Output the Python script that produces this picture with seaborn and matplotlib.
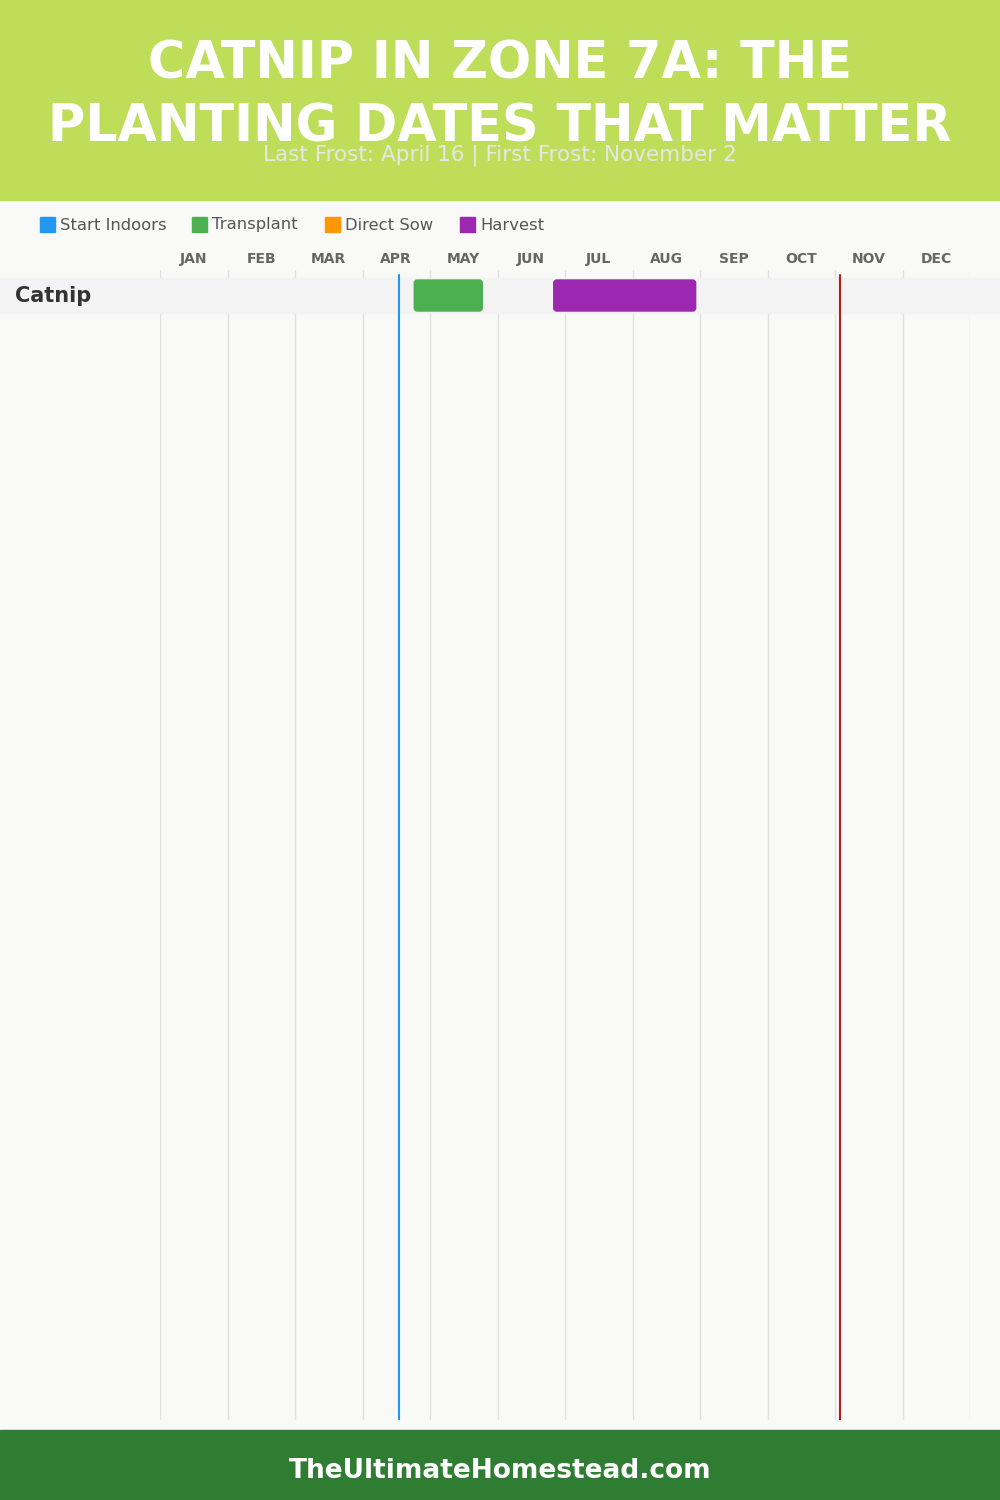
import numpy as np
import matplotlib
matplotlib.use('Agg')
import matplotlib.pyplot as plt
from matplotlib.patches import FancyBboxPatch, Rectangle
from matplotlib import transforms
import seaborn as sns

# dane
months = ['JAN', 'FEB', 'MAR', 'APR', 'MAY', 'JUN', 'JUL', 'AUG', 'SEP', 'OCT', 'NOV', 'DEC']
days_in_month = [31, 28, 31, 30, 31, 30, 31, 31, 30, 31, 30, 31]
crops = ['Catnip']
# okresy: (roslina, etap, miesiac start, dzien start, miesiac koniec, dzien koniec)
task_crop = ['Catnip', 'Catnip']
task_stage = ['Transplant', 'Harvest']
task_start = [(4, 23), (6, 25)]
task_end = [(5, 24), (8, 29)]
legend_stages = ['Start Indoors', 'Transplant', 'Direct Sow', 'Harvest']
stage_colors = ['#2196F3', '#4CAF50', '#FF9800', '#9C27B0']
last_frost = (4, 16)
first_frost = (11, 2)

title = 'CATNIP IN ZONE 7A: THE\nPLANTING DATES THAT MATTER'
subtitle = 'Last Frost: April 16 | First Frost: November 2'
footer = 'TheUltimateHomestead.com'


def pozycja(md):
    m, d = md
    return (m - 1) + d / days_in_month[m - 1]


sns.set_theme(style='white')
plt.rcParams['font.family'] = ['DejaVu Sans']

fig = plt.figure(figsize=(10, 15), dpi=100)
fig.patch.set_facecolor('#F9F9F8')

# naglowek i stopka
fig.add_artist(Rectangle((0, 1 - 200 / 1500), 1, 200 / 1500, transform=fig.transFigure,
                         color='#BEDE5A', zorder=0))
fig.add_artist(Rectangle((0, 0), 1, 70 / 1500, transform=fig.transFigure,
                         color='#2E7D32', zorder=0))
fig.text(0.5, 1 - 96 / 1500, title, ha='center', va='center', color='white',
         fontsize=36.6, fontweight='heavy', linespacing=1.33)
fig.text(0.5, 1 - 155 / 1500, subtitle, ha='center', va='center', color='#E6E6E6',
         fontsize=15.5)
fig.text(0.5, 1 - 1471 / 1500, footer, ha='center', va='center', color='white',
         fontsize=19, fontweight='bold')

# legenda
legend_x = [40, 192, 325, 460]
for lx, lab, col in zip(legend_x, legend_stages, stage_colors):
    fig.add_artist(Rectangle((lx / 1000, 1 - 232 / 1500), 15 / 1000, 15 / 1500,
                             transform=fig.transFigure, color=col))
    fig.text((lx + 20) / 1000, 1 - 225 / 1500, lab, ha='left', va='center',
             color='#555555', fontsize=11.8)

ax = fig.add_axes([0.16, 1 - 1420 / 1500, 0.81, 1150 / 1500])
ax.set_facecolor('none')
ax.set_xlim(0, 12)
ax.set_ylim(-0.729 + 1150 / 35, -0.729)
ax.axis('off')

for i in range(13):
    ax.axvline(i, color='#E0E0E0', lw=1, zorder=1)
for i, m in enumerate(months):
    ax.text(i + 0.5, -1.05, m, ha='center', va='center', color='#666666',
            fontsize=10, fontweight='bold')

trans = transforms.blended_transform_factory(fig.transFigure, ax.transData)
for r, crop in enumerate(crops):
    ax.add_patch(Rectangle((0, r - 0.5), 1, 1, transform=trans, color='#F3F3F3',
                           zorder=2, clip_on=False))
    fig.text(15 / 1000, r, crop, transform=trans, ha='left', va='center',
             color='#333333', fontsize=15, fontweight='bold')

bar_h = 31 / 35
for c, st, s, e in zip(task_crop, task_stage, task_start, task_end):
    r = crops.index(c)
    x0, x1 = pozycja(s), pozycja(e)
    col = stage_colors[legend_stages.index(st)]
    ax.add_patch(FancyBboxPatch((x0, r - bar_h / 2), x1 - x0, bar_h,
                                boxstyle='round,pad=0,rounding_size=0.045',
                                mutation_aspect=1.93, color=col, zorder=3))

ax.axvline(pozycja(last_frost), ymax=1 - 5 / 1150, color='#2196F3', lw=1.5, zorder=4)
ax.axvline(pozycja(first_frost), ymax=1 - 5 / 1150, color='#B71C1C', lw=1.5, zorder=4)

plt.savefig('out.png', dpi=100, facecolor=fig.get_facecolor())
